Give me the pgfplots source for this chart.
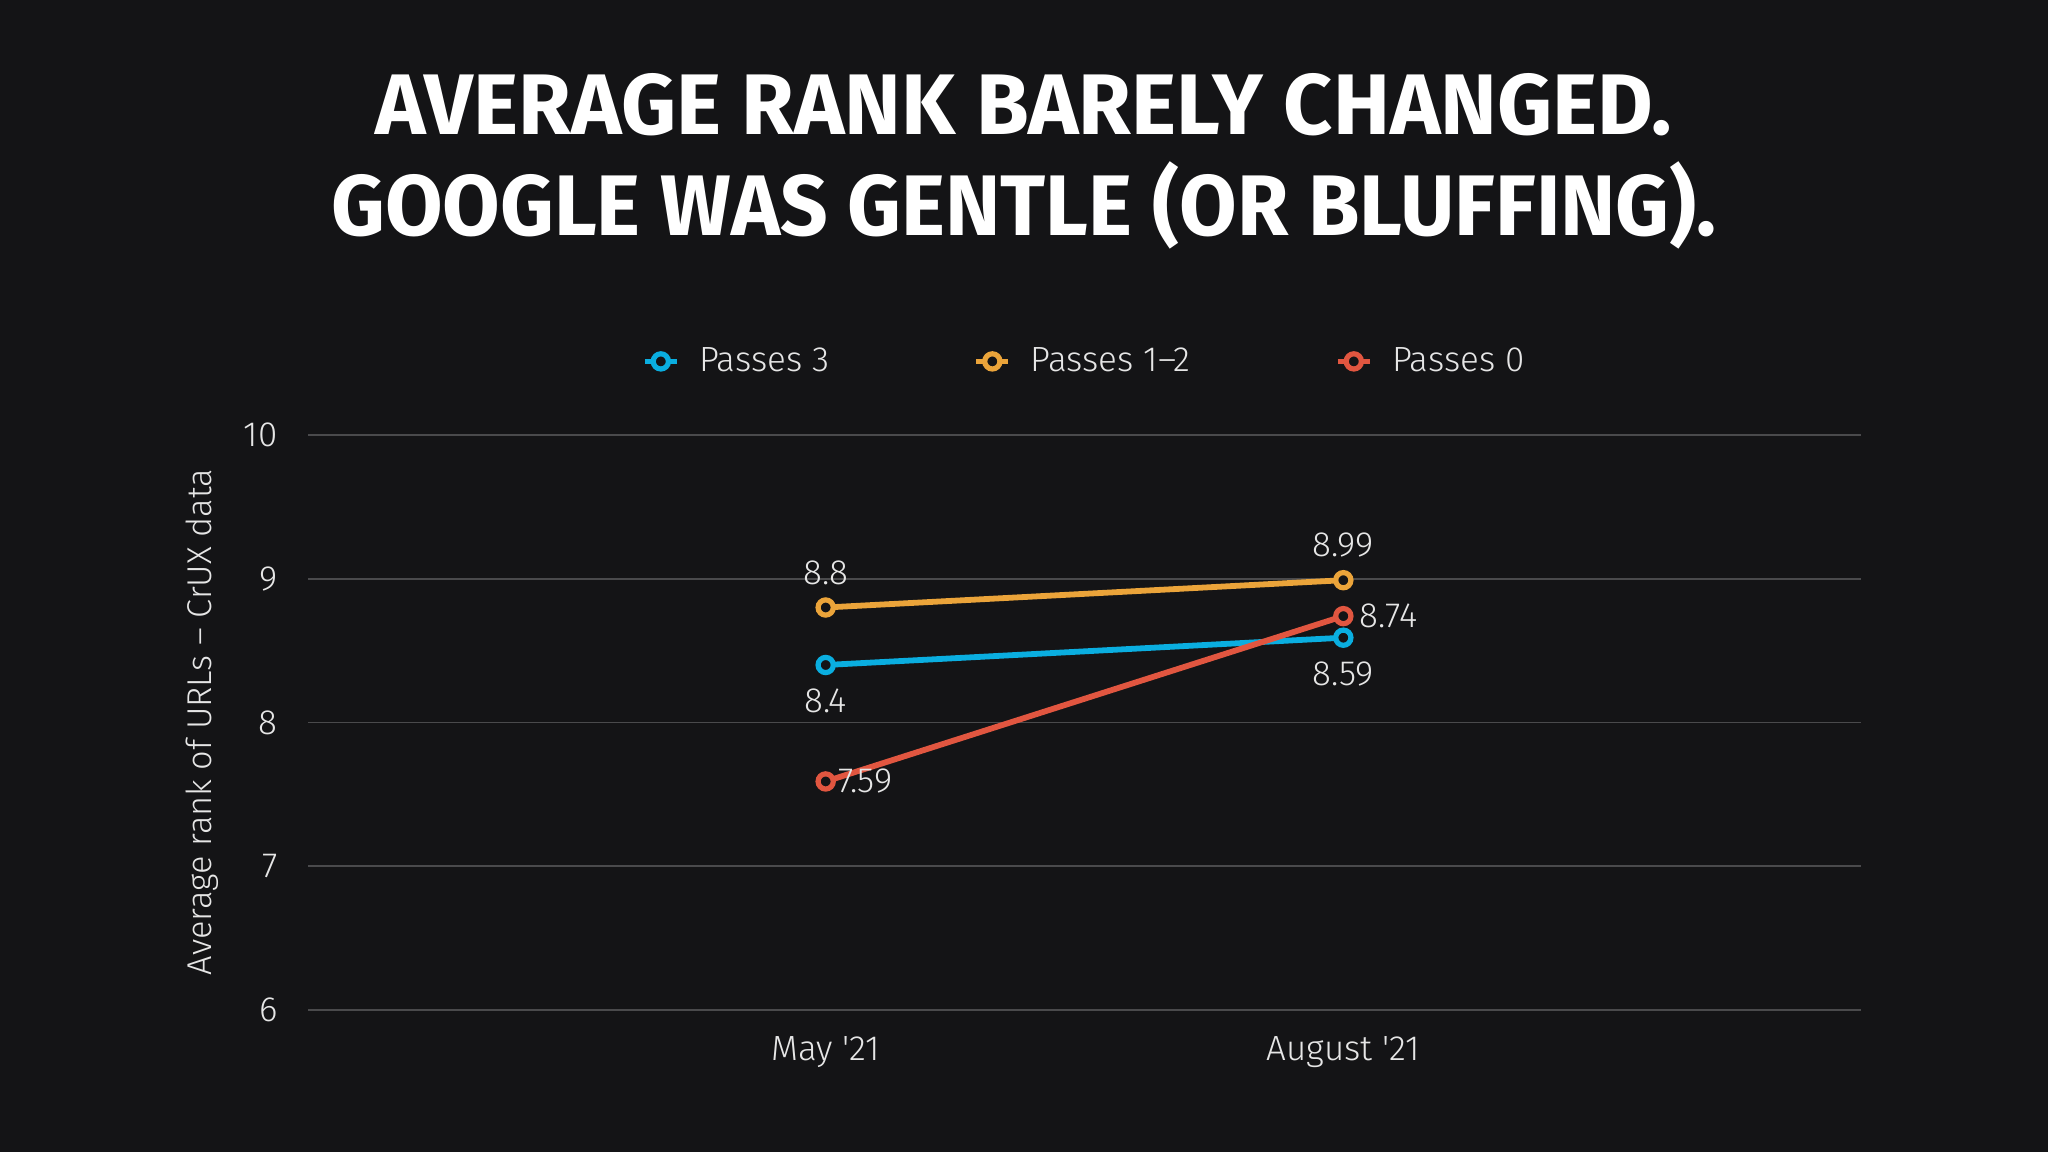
\documentclass[border=0pt]{standalone}
\usepackage{fontspec}
\setmainfont{Fira Sans Light}
\newfontfamily\titlefont{Fira Sans}
\usepackage{pgfplots}
\pgfplotsset{compat=1.18}
\definecolor{bg}{HTML}{141416}
\definecolor{cblue}{HTML}{0AAEE0}
\definecolor{corange}{HTML}{EBA43A}
\definecolor{cred}{HTML}{E15640}
\definecolor{gridc}{HTML}{4A4A4C}
\definecolor{txt}{HTML}{E6E6E6}
\begin{document}
\begin{tikzpicture}
\fill[bg] (0,0) rectangle (1024pt,576pt);
\node[anchor=base, white, inner sep=0] at (512pt,508.5pt) {\scalebox{0.995}[1]{\titlefont\bfseries\fontsize{43}{43}\selectfont AVERAGE RANK BARELY CHANGED.}};
\node[anchor=base, white, inner sep=0] at (512pt,458pt) {\scalebox{0.97}[1]{\titlefont\bfseries\fontsize{43}{43}\selectfont GOOGLE WAS GENTLE (OR BLUFFING).}};
\begin{axis}[
  at={(154pt,71pt)}, anchor=south west,
  scale only axis, width=776.5pt, height=287.5pt,
  xmin=-1, xmax=2, ymin=6, ymax=10,
  xtick={0,1}, xticklabels={May \textquotesingle21, August \textquotesingle21},
  ytick={6,7,8,9,10},
  axis line style={draw=none},
  major tick length=0pt,
  ymajorgrids, major grid style={gridc, line width=0.8pt},
  tick label style={font=\fontsize{17.5}{17.5}\selectfont, text=txt, inner sep=0pt},
  yticklabel style={anchor=east, xshift=-15pt},
  xticklabel style={anchor=north, yshift=-13pt},
  /pgf/number format/assume math mode=true,
  clip=false,
  legend columns=3,
  legend style={at={(0.5,1.128)}, anchor=center, draw=none, fill=none, text=txt,
    font=\fontsize{17.5}{17.5}\selectfont,
    nodes={inner sep=1pt},
    /tikz/every odd column/.append style={column sep=9pt},
    /tikz/every even column/.append style={column sep=71.5pt}},
  legend image code/.code={\draw[mark repeat=2,mark phase=2,#1, line width=2.2pt] plot coordinates {(0pt,0pt)(8pt,0pt)(16pt,0pt)};},
  every axis plot/.append style={line width=2.9pt, mark=*, mark size=3.8pt},
]
\addplot[cblue, mark options={draw=cblue, fill=bg, line width=2.6pt}] coordinates {(0,8.4) (1,8.59)};
\addlegendentry{Passes 3}
\addplot[corange, mark options={draw=corange, fill=bg, line width=2.6pt}] coordinates {(0,8.8) (1,8.99)};
\addlegendentry{Passes 1–2}
\addplot[cred, mark options={draw=cred, fill=bg, line width=2.6pt}] coordinates {(0,7.59) (1,8.74)};
\addlegendentry{Passes 0}
\begin{scope}[every node/.style={text=txt, font=\fontsize{17.5}{17.5}\selectfont, inner sep=0pt}]
\node[anchor=center, yshift=17.5pt] at (axis cs:0,8.8) {8.8};
\node[anchor=center, yshift=-18pt] at (axis cs:0,8.4) {8.4};
\node[anchor=west, xshift=6pt] at (axis cs:0,7.59) {7.59};
\node[anchor=center, yshift=17.5pt] at (axis cs:1,8.99) {8.99};
\node[anchor=west, xshift=8pt] at (axis cs:1,8.74) {8.74};
\node[anchor=center, yshift=-18pt] at (axis cs:1,8.59) {8.59};
\end{scope}
\end{axis}
\node[rotate=90, text=txt, inner sep=0, font=\fontsize{17.2}{17.2}\selectfont] at (101pt,215pt) {Average rank of URLs – CrUX data};
\end{tikzpicture}
\end{document}
